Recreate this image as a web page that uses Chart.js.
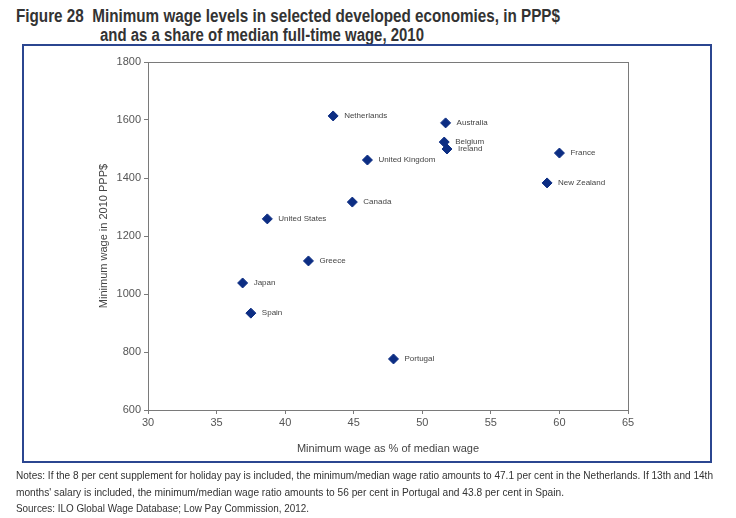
<!DOCTYPE html>
<html>
<head>
<meta charset="utf-8">
<script src="https://cdn.jsdelivr.net/npm/chart.js@4"></script>
<style>
  body { margin: 0; background: #fff; width: 736px; height: 518px; position: relative; overflow: hidden; }
  .riga { position: absolute; white-space: nowrap; transform-origin: 0 0; font-family: "Liberation Sans", Arial, sans-serif; color: #333; }
  .titolo { font-weight: bold; font-size: 18px; }
  .nota { font-size: 11.5px; }
  #box { position: absolute; left: 22px; top: 44px; width: 686px; height: 415px; border: 2px solid #2b4690; }
  canvas { position: absolute; left: 0; top: 0; }
</style>
</head>
<body>
<div class="riga titolo" style="left:16px;top:6px" data-w="544">Figure 28&nbsp; Minimum wage levels in selected developed economies, in PPP$</div>
<div class="riga titolo" style="left:100px;top:25px" data-w="324">and as a share of median full-time wage, 2010</div>
<div id="box"></div>
<canvas id="grafico" width="736" height="518"></canvas>
<div class="riga nota" style="left:16px;top:469px" data-w="697">Notes: If the 8 per cent supplement for holiday pay is included, the minimum/median wage ratio amounts to 47.1 per cent in the Netherlands. If 13th and 14th</div>
<div class="riga nota" style="left:16px;top:486px" data-w="548">months' salary is included, the minimum/median wage ratio amounts to 56 per cent in Portugal and 43.8 per cent in Spain.</div>
<div class="riga nota" style="left:16px;top:502px" data-w="293">Sources: ILO Global Wage Database; Low Pay Commission, 2012.</div>
<script>
const paesi = ['Netherlands', 'Australia', 'Belgium', 'Ireland', 'France', 'New Zealand', 'United Kingdom', 'Canada', 'United States', 'Greece', 'Japan', 'Spain', 'Portugal'];
const quota_mediana = [43.5, 51.7, 51.6, 51.8, 60.0, 59.1, 46.0, 44.9, 38.7, 41.7, 36.9, 37.5, 47.9];
const salario_minimo = [1614, 1590, 1524, 1500, 1486, 1383, 1462, 1317, 1259, 1114, 1038, 934, 776];

// restringe i testi alla larghezza dell'originale (font condensato non disponibile)
document.querySelectorAll('.riga').forEach(el => {
    const w = el.getBoundingClientRect().width;
    el.style.transform = `scaleX(${el.dataset.w / w})`;
});

const punti = paesi.map((p, i) => ({ x: quota_mediana[i], y: salario_minimo[i], nome: p }));

const cornice = {
    id: 'cornice',
    afterDraw(chart) {
        const { ctx, chartArea: a } = chart;
        ctx.save();
        ctx.strokeStyle = '#7a7a7a';
        ctx.lineWidth = 1;
        ctx.strokeRect(a.left + 0.5, a.top + 0.5, a.right - a.left, a.bottom - a.top);
        ctx.restore();
    }
};

const etichette = {
    id: 'etichette',
    afterDatasetsDraw(chart) {
        const ctx = chart.ctx;
        const meta = chart.getDatasetMeta(0);
        ctx.save();
        ctx.font = '8px "Liberation Sans", Arial, sans-serif';
        ctx.fillStyle = '#444';
        ctx.textBaseline = 'middle';
        meta.data.forEach((el, i) => {
            ctx.fillText(punti[i].nome, el.x + 11, el.y);
        });
        ctx.restore();
    }
};

const fontAssi = { family: '"Liberation Sans", Arial', size: 11 };

const ctx = document.getElementById('grafico').getContext('2d');
new Chart(ctx, {
    type: 'scatter',
    data: {
        datasets: [{
            data: punti,
            pointStyle: 'rectRot',
            pointRadius: 5,
            backgroundColor: '#0c2d83',
            borderColor: '#0c2d83'
        }]
    },
    options: {
        responsive: false,
        animation: false,
        layout: { padding: { left: 97, top: 62, right: 108, bottom: 58 } },
        plugins: { legend: { display: false }, tooltip: { enabled: false } },
        scales: {
            x: {
                min: 30, max: 65,
                ticks: { stepSize: 5, color: '#555', font: fontAssi, padding: 2 },
                grid: { drawOnChartArea: false, tickLength: 4, color: '#7a7a7a' },
                border: { color: '#7a7a7a' },
                title: { display: true, text: 'Minimum wage as % of median wage', color: '#444', font: fontAssi, padding: { top: 14 } },
                afterFit: s => { s.height = 50; }
            },
            y: {
                min: 600, max: 1800,
                ticks: { stepSize: 200, color: '#555', font: fontAssi, padding: 3, callback: v => String(v) },
                grid: { drawOnChartArea: false, tickLength: 4, color: '#7a7a7a' },
                border: { color: '#7a7a7a' },
                title: { display: true, text: 'Minimum wage in 2010 PPP$', color: '#444', font: fontAssi, padding: 0 },
                afterFit: s => { s.width = 51; }
            }
        }
    },
    plugins: [cornice, etichette]
});
</script>
</body>
</html>
